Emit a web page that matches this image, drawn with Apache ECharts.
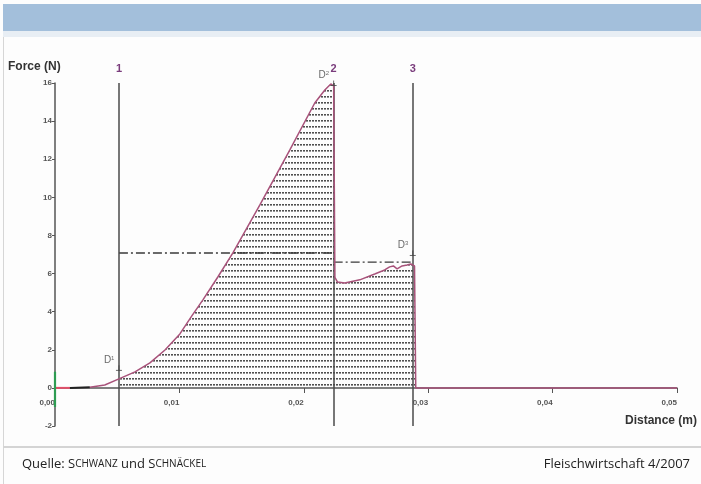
<!DOCTYPE html>
<html>
<head>
<meta charset="utf-8">
<script src="https://cdn.jsdelivr.net/npm/echarts@6/dist/echarts.min.js"></script>
<style>
  html, body { margin: 0; padding: 0; background: #fdfdfd; }
  #chart { width: 701px; height: 484px; }
</style>
</head>
<body>
<div id="chart"></div>
<script>
// Force–distance record of the cutting test (distance in m, force in N)
const distance = [0, 0.0012, 0.0028, 0.004, 0.00514, 0.00643, 0.00763, 0.00884, 0.01004, 0.0110,
  0.01189, 0.01309, 0.0143, 0.01647, 0.01888, 0.02088, 0.02169, 0.02217, 0.0224, 0.0225, 0.0227,
  0.0233, 0.0245, 0.0257, 0.0265, 0.0269, 0.0272, 0.0275, 0.0279, 0.0283, 0.0286, 0.0289, 0.0290,
  0.0290, 0.05];
const force = [0, 0, 0.03, 0.15, 0.47, 0.84, 1.31, 1.99, 2.83, 3.78,
  4.62, 5.82, 7.08, 9.6, 12.49, 14.95, 15.63, 15.95, 15.85, 5.8, 5.56,
  5.5, 5.67, 5.98, 6.19, 6.35, 6.4, 6.25, 6.4, 6.45, 6.5, 6.4, 6.3,
  0, 0];

// Colour changes of the trace at the start of the run
const redSegmentEnd = 0.0012;
const blackSegmentEnd = 0.0028;

// Short trace on the force axis at the zero position
const zeroTraceForce = [0.85, -1];

// Cursors 1–3
const cursorLabels = ['1', '2', '3'];
const cursorDistance = [0.00514, 0.0224, 0.02876];

// Mean force levels between the cursors
const levelForce = [7.08, 6.6];

// Markers D1–D3
const markerNames = ['1', '2', '3'];
const markerDistance = [0.00514, 0.0224, 0.02876];
const markerForce = [1.05, 16.0, 7.08];

// Axis ticks
const xTicks = [0, 0.01, 0.02, 0.03, 0.04, 0.05];
const yTicks = [-2, 0, 2, 4, 6, 8, 10, 12, 14, 16];

const curve = distance.map((d, i) => [d, force[i]]);
const redPart = curve.filter(p => p[0] <= redSegmentEnd);
const blackPart = curve.filter(p => p[0] >= redSegmentEnd && p[0] <= blackSegmentEnd);
const mainPart = curve.filter(p => p[0] >= blackSegmentEnd);
const workPart = curve.filter(p => p[0] >= cursorDistance[0] && p[0] <= 0.0290);

// Dotted row hatching for the work area
function hatchCanvas() {
  const c = document.createElement('canvas');
  c.width = 3; c.height = 6;
  const g = c.getContext('2d');
  g.fillStyle = '#505050';
  g.fillRect(0, 0, 2, 1);
  g.fillStyle = '#959595';
  g.fillRect(0, 1, 2, 1);
  return c;
}

const axisFont = { fontSize: 8, color: '#555', fontFamily: 'Liberation Sans', fontWeight: 'bold' };

const chart = echarts.init(document.getElementById('chart'), null, { renderer: 'canvas' });

const lineSeries = (data, color, width, z) => ({
  type: 'line', data, showSymbol: false, symbol: 'none', silent: true, z,
  lineStyle: { color, width }, animation: false
});

chart.setOption({
  animation: false,
  backgroundColor: '#fdfdfd',
  grid: { left: 55, right: 24, top: 83, bottom: 58 },
  xAxis: {
    type: 'value', min: 0, max: 0.05, interval: 0.01,
    // the distance axis runs along force = 0, two units above the grid bottom
    offset: -38,
    axisLine: { onZero: false, lineStyle: { color: '#555', width: 1.5 } },
    axisTick: { show: true, length: 5, lineStyle: { color: '#555' } },
    splitLine: { show: false },
    axisLabel: Object.assign({}, axisFont, {
      align: 'right', margin: 11,
      formatter: v => xTicks.some(t => Math.abs(t - v) < 1e-9) ? v.toFixed(2).replace('.', ',') : ''
    })
  },
  yAxis: {
    type: 'value', min: -2, max: 16, interval: 2,
    axisLine: { onZero: false, lineStyle: { color: '#555', width: 1.5 } },
    axisTick: { show: true, length: 3, lineStyle: { color: '#555' } },
    splitLine: { show: false },
    axisLabel: Object.assign({}, axisFont, {
      margin: 3,
      formatter: v => yTicks.includes(v) ? String(v) : ''
    })
  },
  series: [
    // hatched work area between cursor 1 and the end of the cut
    {
      type: 'line', data: workPart, showSymbol: false, symbol: 'none', silent: true, z: 1,
      lineStyle: { width: 0 },
      areaStyle: { color: { image: hatchCanvas(), repeat: 'repeat' }, opacity: 1 }
    },
    // cursors
    {
      type: 'line', data: [], silent: true, z: 3,
      markLine: {
        silent: true, symbol: ['none', 'none'], animation: false, precision: 6,
        lineStyle: { color: '#4a4a4a', width: 1.5, type: 'solid' },
        label: {
          show: true, position: 'end', distance: 9,
          color: '#7a3c7c', fontWeight: 'bold', fontSize: 11, fontFamily: 'Liberation Sans',
          formatter: p => p.name
        },
        data: cursorDistance.map((d, i) => ({ xAxis: d, name: cursorLabels[i] }))
      }
    },
    // mean force levels (dash-dot)
    {
      type: 'line', showSymbol: false, symbol: 'none', silent: true, z: 3,
      data: [[cursorDistance[0], levelForce[0]], [cursorDistance[1], levelForce[0]]],
      lineStyle: { color: '#3a3a3a', width: 1.3, type: [9, 3, 2, 3] }
    },
    {
      type: 'line', showSymbol: false, symbol: 'none', silent: true, z: 3,
      data: [[cursorDistance[1], levelForce[1]], [cursorDistance[2], levelForce[1]]],
      lineStyle: { color: '#3a3a3a', width: 1.3, type: [9, 3, 2, 3] }
    },
    lineSeries(redPart, '#e0506a', 2, 5),
    lineSeries(blackPart, '#222', 2, 5),
    lineSeries(mainPart, '#a8527a', 1.5, 5),
    lineSeries(zeroTraceForce.map(f => [0, f]), '#2e9c52', 2.2, 6),
    // markers D1–D3
    {
      type: 'scatter', silent: true, z: 7,
      data: markerDistance.map((d, i) => ({ value: [d, markerForce[i]], name: markerNames[i] })),
      symbol: 'path://M-3,0 L3,0 M0,0 L0,-5',
      symbolSize: [6, 6], symbolKeepAspect: true,
      itemStyle: { color: 'none', borderColor: '#444', borderWidth: 1 },
      label: {
        show: true, position: 'left', distance: 0, offset: [1, -8],
        formatter: p => '{d|D}{n|' + p.name + '}',
        rich: {
          d: { fontSize: 10, color: '#444', fontFamily: 'Liberation Sans' },
          n: { fontSize: 6, color: '#444', fontFamily: 'Liberation Sans', verticalAlign: 'top', padding: [0, 0, 4, 0] }
        }
      }
    }
  ],
  graphic: [
    { type: 'rect', shape: { x: 3, y: 4, width: 698, height: 27 }, style: { fill: '#a3bfdb' }, silent: true },
    { type: 'rect', shape: { x: 3, y: 31, width: 698, height: 6 }, style: { fill: '#e8eef4' }, silent: true },
    { type: 'line', shape: { x1: 3.5, y1: 37, x2: 3.5, y2: 484 }, style: { stroke: '#d6d6d6', lineWidth: 1 }, silent: true },
    { type: 'line', shape: { x1: 3, y1: 447, x2: 701, y2: 447 }, style: { stroke: '#d4d4d4', lineWidth: 2 }, silent: true },
    {
      type: 'text', left: 8, top: 61, silent: true,
      style: { text: 'Force (N)', fill: '#333', font: 'bold 12px "Liberation Sans"' }
    },
    {
      type: 'text', right: 4, top: 415, silent: true,
      style: { text: 'Distance (m)', fill: '#333', font: 'bold 12px "Liberation Sans"' }
    },
    {
      type: 'text', left: 22, top: 458, silent: true,
      style: {
        text: '{n|Quelle: S}{s|CHWANZ}{n| und S}{s|CHNÄCKEL}',
        rich: {
          n: { fontSize: 13, fontFamily: 'Open Sans', fill: '#222', color: '#222' },
          s: { fontSize: 10, fontFamily: 'Open Sans', fill: '#222', color: '#222' }
        }
      }
    },
    {
      type: 'text', right: 11, top: 458, silent: true,
      style: { text: 'Fleischwirtschaft 4/2007', fill: '#222', font: '13px "Open Sans"' }
    }
  ]
});
</script>
</body>
</html>
